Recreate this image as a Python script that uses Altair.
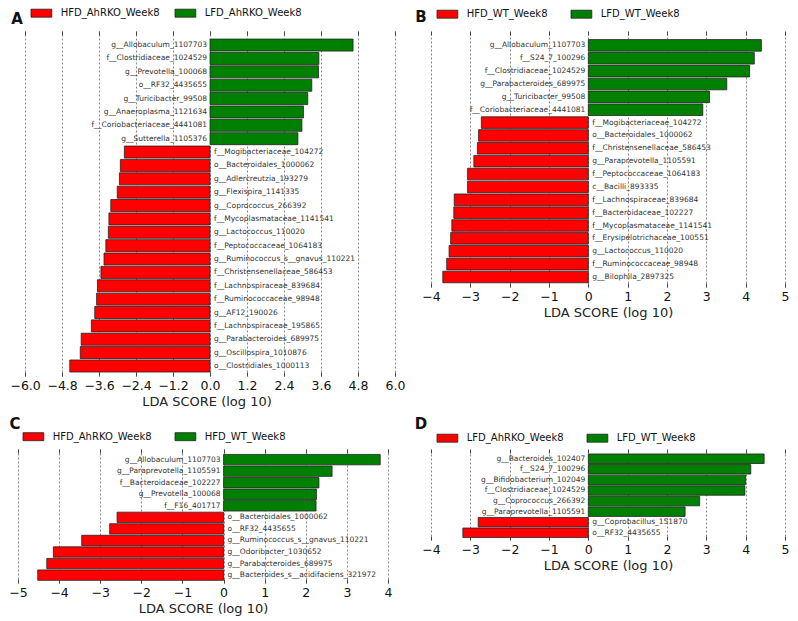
import altair as alt
import pandas as pd

# ---------------- Panel A ----------------
a_names = ["g__Allobaculum_1107703", "f__Clostridiaceae_1024529", "g__Prevotella_100068",
           "o__RF32_4435655", "g__Turicibacter_99508", "g__Anaeroplasma_1121634",
           "f__Coriobacteriaceae_4441081", "g__Sutterella_1105376", "f__Mogibacteriaceae_104272",
           "o__Bacteroidales_1000062", "g__Adlercreutzia_193279", "g__Flexispira_1141335",
           "g__Coprococcus_266392", "f__Mycoplasmataceae_1141541", "g__Lactococcus_110020",
           "f__Peptococcaceae_1064183", "g__Ruminococcus_s__gnavus_110221",
           "f__Christensenellaceae_586453", "f__Lachnospiraceae_839684", "f__Ruminococcaceae_98948",
           "g__AF12_190026", "f__Lachnospiraceae_195865", "g__Parabacteroides_689975",
           "g__Oscillospira_1010876", "o__Clostridiales_1000113"]
a_values = [4.64, 3.53, 3.52, 3.30, 3.17, 3.03, 2.98, 2.85, -2.78, -2.91, -2.94, -3.01, -3.22,
            -3.28, -3.30, -3.38, -3.44, -3.54, -3.65, -3.68, -3.74, -3.85, -4.18, -4.21, -4.55]
a_groups = ["HFD_AhRKO_Week8", "LFD_AhRKO_Week8"]
a_ticks = [-6.0, -4.8, -3.6, -2.4, -1.2, 0.0, 1.2, 2.4, 3.6, 4.8, 6.0]

# ---------------- Panel B ----------------
b_names = ["g__Allobaculum_1107703", "f__S24_7_100296", "f__Clostridiaceae_1024529",
           "g__Parabacteroides_689975", "g__Turicibacter_99508", "f__Coriobacteriaceae_4441081",
           "f__Mogibacteriaceae_104272", "o__Bacteroidales_1000062", "f__Christensenellaceae_586453",
           "g__Paraprevotella_1105591", "f__Peptococcaceae_1064183", "c__Bacilli_893335",
           "f__Lachnospiraceae_839684", "f__Bacteroidaceae_102227", "f__Mycoplasmataceae_1141541",
           "f__Erysipelotrichaceae_100551", "g__Lactococcus_110020", "f__Ruminococcaceae_98948",
           "g__Bilophila_2897325"]
b_values = [4.40, 4.22, 4.10, 3.52, 3.08, 2.91, -2.72, -2.79, -2.82, -2.91, -3.07, -3.07,
            -3.41, -3.42, -3.47, -3.50, -3.54, -3.60, -3.70]
b_groups = ["HFD_WT_Week8", "LFD_WT_Week8"]
b_ticks = [-4, -3, -2, -1, 0, 1, 2, 3, 4, 5]

# ---------------- Panel C ----------------
c_names = ["g__Allobaculum_1107703", "g__Paraprevotella_1105591", "f__Bacteroidaceae_102227",
           "g__Prevotella_100068", "f__F16_401717", "o__Bacteroidales_1000062", "o__RF32_4435655",
           "g__Ruminococcus_s__gnavus_110221", "g__Odoribacter_1030652",
           "g__Parabacteroides_689975", "g__Bacteroides_s__acidifaciens_321972"]
c_values = [3.81, 2.64, 2.32, 2.26, 2.25, -2.59, -2.77, -3.45, -4.14, -4.30, -4.52]
c_groups = ["HFD_AhRKO_Week8", "HFD_WT_Week8"]
c_ticks = [-5, -4, -3, -2, -1, 0, 1, 2, 3, 4]

# ---------------- Panel D ----------------
d_names = ["g__Bacteroides_102407", "f__S24_7_100296", "g__Bifidobacterium_102049",
           "f__Clostridiaceae_1024529", "g__Coprococcus_266392", "g__Paraprevotella_1105591",
           "g__Coprobacillus_151870", "o__RF32_4435655"]
d_values = [4.47, 4.13, 4.00, 3.98, 2.83, 2.46, -2.80, -3.19]
d_groups = ["LFD_AhRKO_Week8", "LFD_WT_Week8"]
d_ticks = [-4, -3, -2, -1, 0, 1, 2, 3, 4, 5]

COLORS = ["#ff0000", "#008000"]
RECT = "M-2.6,-1H2.6V1H-2.6Z"


def panel(names, values, groups, domain, ticks, fmt, width, height, pad_outer,
          letter, letter_xy, legend_xy, col_pad):
    df = pd.DataFrame({
        "name": names,
        "score": values,
        "group": [groups[1] if v > 0 else groups[0] for v in values],
    })
    yscale = alt.Scale(domain=names, paddingInner=0.1, paddingOuter=pad_outer, align=0.67)
    xscale = alt.Scale(domain=domain, nice=False, zero=False)
    y = alt.Y("name:N", scale=yscale, axis=None)
    base = alt.Chart(df)

    bars = base.mark_bar(stroke="#222", strokeWidth=0.8, opacity=1).encode(
        x=alt.X("score:Q", scale=xscale,
                axis=alt.Axis(values=ticks, format=fmt, title="LDA SCORE (log 10)",
                              grid=True, gridDash=[2, 2], gridColor="#555", gridWidth=0.7,
                              domain=False, ticks=True, tickSize=4, tickColor="#444",
                              offset=-4, labelPadding=3, labelFontSize=12.5,
                              labelColor="#111", titleFontSize=13,
                              titleFontWeight="normal", titleColor="#222",
                              titlePadding=4, labelFlush=False)),
        x2=alt.datum(0),
        y=y,
        fill=alt.Fill("group:N", scale=alt.Scale(domain=groups, range=COLORS),
                      legend=alt.Legend(title=None, orient="none",
                                        legendX=legend_xy[0] + 6.4, legendY=legend_xy[1],
                                        direction="horizontal", symbolType=RECT,
                                        symbolSize=64, symbolStrokeColor="#222",
                                        symbolStrokeWidth=0.8, symbolOpacity=1,
                                        labelFontSize=10, labelColor="#111",
                                        labelOffset=14.4, columnPadding=col_pad,
                                        padding=0)),
    )
    top_ticks = base.mark_point(opacity=0).encode(
        x=alt.X("score:Q", scale=xscale,
                axis=alt.Axis(orient="top", values=ticks, labels=False, grid=False,
                              domain=False, ticks=True, tickSize=4, tickColor="#444",
                              offset=-4, title=None)),
        y=y,
    )
    pos_text = base.transform_filter("datum.score > 0").mark_text(
        align="right", baseline="middle", dx=-3, fontSize=7.5, color="#333"
    ).encode(x=alt.XDatum(0, axis=None), y=y, text="name:N")
    neg_text = base.transform_filter("datum.score < 0").mark_text(
        align="left", baseline="middle", dx=4, fontSize=7.5, color="#333"
    ).encode(x=alt.XDatum(0, axis=None), y=y, text="name:N")
    letter_mark = alt.Chart(pd.DataFrame({"t": [letter]})).mark_text(
        align="center", baseline="middle", fontSize=15, fontWeight="bold", color="#111"
    ).encode(text="t:N", x=alt.value(letter_xy[0]), y=alt.value(letter_xy[1]))

    return alt.layer(bars, top_ticks, pos_text, neg_text, letter_mark).resolve_axis(
        x="independent").properties(width=width, height=height)


pa = panel(a_names, a_values, a_groups, [-6.23, 6.0], a_ticks, ".1f", 377, 345, 0.45,
           "A", (-1, -12), (12, -23), 13)
pb = panel(b_names, b_values, b_groups, [-4, 5], b_ticks, "d", 354, 256, 0.5,
           "B", (-10, -14), (5, -22), 21)
pc = panel(c_names, c_values, c_groups, [-5, 4], c_ticks, "d", 370, 134, 0.35,
           "C", (-3, -25), (4, -17.5), 21)
pd_ = panel(d_names, d_values, d_groups, [-4, 5], d_ticks, "d", 354, 91, 0.35,
            "D", (-10, -25), (5, -16), 21)

chart = alt.concat(pa, pb, pc, pd_, columns=2, bounds="flush",
                   spacing=alt.RowColnumber(row=73, column=36)
                   ).resolve_scale(fill="independent").properties(padding=0).configure(
    font="DejaVu Sans").configure_view(stroke=None)

chart.save("out.html", embed_options={"renderer": "svg", "actions": False})
